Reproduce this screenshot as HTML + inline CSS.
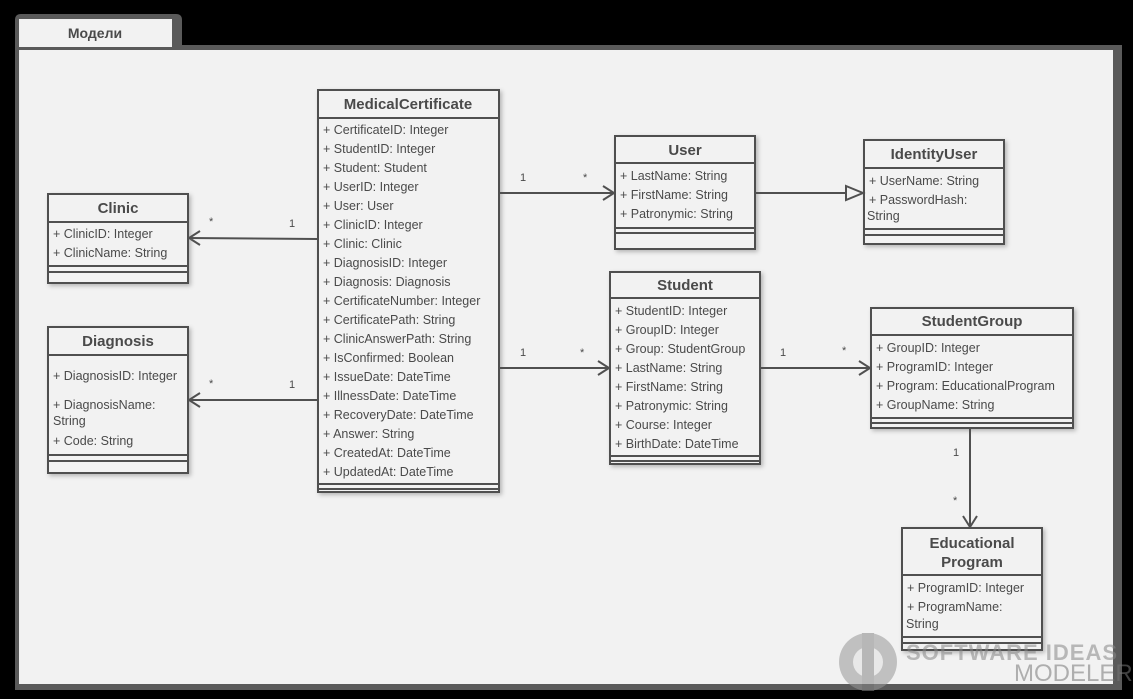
<!DOCTYPE html>
<html><head><meta charset="utf-8"><style>
html,body{margin:0;padding:0;background:#000;width:1133px;height:699px;overflow:hidden}
svg{display:block}
text{font-family:"Liberation Sans","DejaVu Sans",sans-serif;fill:#4a4a4a}
.r{font-size:12.5px}
.t{font-size:15px;font-weight:bold;text-anchor:middle}
.m{font-size:11px}
</style></head><body>
<svg width="1133" height="699" viewBox="0 0 1133 699">
<defs><filter id="s" x="-10%" y="-10%" width="130%" height="130%"><feDropShadow dx="2" dy="2" stdDeviation="2" flood-color="#000" flood-opacity="0.25"/></filter></defs>
<!-- frame -->
<path d="M15,690 L15,20 Q15,14 21,14 L176,14 Q182,14 182,20 L182,45 L1122,45 L1122,690 Z" fill="#5a5a5a"/>
<rect x="19" y="50" width="1094" height="634" fill="#f2f2f2"/>
<rect x="19" y="19" width="153" height="28" fill="#f2f2f2"/>
<line x1="19" y1="48" x2="172" y2="48" stroke="#5a5a5a" stroke-width="2"/>
<text x="95" y="38" style="font-size:14px;font-weight:bold;text-anchor:middle">Модели</text>

<g stroke="#505050" stroke-width="2" fill="#f2f2f2">
<rect x="318" y="90" width="181" height="402" filter="url(#s)"/>
<rect x="48" y="194" width="140" height="89" filter="url(#s)"/>
<rect x="48" y="327" width="140" height="146" filter="url(#s)"/>
<rect x="615" y="136" width="140" height="113" filter="url(#s)"/>
<rect x="864" y="140" width="140" height="104" filter="url(#s)"/>
<rect x="610" y="272" width="150" height="192" filter="url(#s)"/>
<rect x="871" y="308" width="202" height="120" filter="url(#s)"/>
<rect x="902" y="528" width="140" height="122" filter="url(#s)"/>
<path fill="none" d="M318,118H499M318,484H499M318,489H499
M48,222H188M48,266H188M48,272H188
M48,355H188M48,455H188M48,461H188
M615,163H755M615,228H755M615,233H755
M864,168H1004M864,229H1004M864,235H1004
M610,298H760M610,456H760M610,461H760
M871,335H1073M871,418H1073M871,423H1073
M902,575H1042M902,637H1042M902,643H1042"/>
<path fill="none" d="M318,239L188,238M200,231L189,238L200,245
M318,400H188M200,393L189,400L200,407
M499,193H615M603,186L614,193L603,200
M755,193H846
M499,368H610M598,361L609,368L598,375
M760,368H871M859,361L870,368L859,375
M970,428V528M963,516L970,527L977,516"/>
<path d="M846,186L863,193L846,200Z" fill="#f2f2f2"/>
</g>

<g class="m">
<text x="209" y="225">*</text><text x="289" y="227">1</text>
<text x="209" y="387">*</text><text x="289" y="388">1</text>
<text x="520" y="181">1</text><text x="583" y="181">*</text>
<text x="520" y="356">1</text><text x="580" y="356">*</text>
<text x="780" y="356">1</text><text x="842" y="354">*</text>
<text x="953" y="456">1</text><text x="953" y="504">*</text>
</g>

<text class="t" x="408" y="109">MedicalCertificate</text>
<g class="r">
<text x="323" y="134">+ CertificateID: Integer</text>
<text x="323" y="153">+ StudentID: Integer</text>
<text x="323" y="172">+ Student: Student</text>
<text x="323" y="191">+ UserID: Integer</text>
<text x="323" y="210">+ User: User</text>
<text x="323" y="229">+ ClinicID: Integer</text>
<text x="323" y="248">+ Clinic: Clinic</text>
<text x="323" y="267">+ DiagnosisID: Integer</text>
<text x="323" y="286">+ Diagnosis: Diagnosis</text>
<text x="323" y="305">+ CertificateNumber: Integer</text>
<text x="323" y="324">+ CertificatePath: String</text>
<text x="323" y="343">+ ClinicAnswerPath: String</text>
<text x="323" y="362">+ IsConfirmed: Boolean</text>
<text x="323" y="381">+ IssueDate: DateTime</text>
<text x="323" y="400">+ IllnessDate: DateTime</text>
<text x="323" y="419">+ RecoveryDate: DateTime</text>
<text x="323" y="438">+ Answer: String</text>
<text x="323" y="457">+ CreatedAt: DateTime</text>
<text x="323" y="476">+ UpdatedAt: DateTime</text>
</g>

<text class="t" x="118" y="213">Clinic</text>
<g class="r"><text x="53" y="238">+ ClinicID: Integer</text><text x="53" y="257">+ ClinicName: String</text></g>

<text class="t" x="118" y="346">Diagnosis</text>
<g class="r"><text x="53" y="380">+ DiagnosisID: Integer</text><text x="53" y="409">+ DiagnosisName:</text><text x="53" y="425">String</text><text x="53" y="445">+ Code: String</text></g>

<text class="t" x="685" y="155">User</text>
<g class="r"><text x="620" y="180">+ LastName: String</text><text x="620" y="199">+ FirstName: String</text><text x="620" y="218">+ Patronymic: String</text></g>

<text class="t" x="934" y="159">IdentityUser</text>
<g class="r"><text x="869" y="185">+ UserName: String</text><text x="869" y="204">+ PasswordHash:</text><text x="867" y="220">String</text></g>

<text class="t" x="685" y="290">Student</text>
<g class="r">
<text x="615" y="315">+ StudentID: Integer</text>
<text x="615" y="334">+ GroupID: Integer</text>
<text x="615" y="353">+ Group: StudentGroup</text>
<text x="615" y="372">+ LastName: String</text>
<text x="615" y="391">+ FirstName: String</text>
<text x="615" y="410">+ Patronymic: String</text>
<text x="615" y="429">+ Course: Integer</text>
<text x="615" y="448">+ BirthDate: DateTime</text>
</g>

<text class="t" x="972" y="326">StudentGroup</text>
<g class="r">
<text x="876" y="352">+ GroupID: Integer</text>
<text x="876" y="371">+ ProgramID: Integer</text>
<text x="876" y="390">+ Program: EducationalProgram</text>
<text x="876" y="409">+ GroupName: String</text>
</g>

<text class="t" x="972" y="548">Educational</text>
<text class="t" x="972" y="567">Program</text>
<g class="r"><text x="907" y="592">+ ProgramID: Integer</text><text x="907" y="611">+ ProgramName:</text><text x="906" y="628">String</text></g>

<g opacity="0.55">
<circle cx="868" cy="662" r="29" fill="#999"/>
<circle cx="868" cy="662" r="15" fill="#e0e0e0"/>
<rect x="862" y="633" width="12" height="58" fill="#888"/>
<text x="906" y="660" style="font-size:22px;font-weight:bold;fill:#888;letter-spacing:1px">SOFTWARE IDEAS</text>
<text x="1014" y="681" style="font-size:24px;fill:#777">MODELER</text>
</g>
</svg>
</body></html>
